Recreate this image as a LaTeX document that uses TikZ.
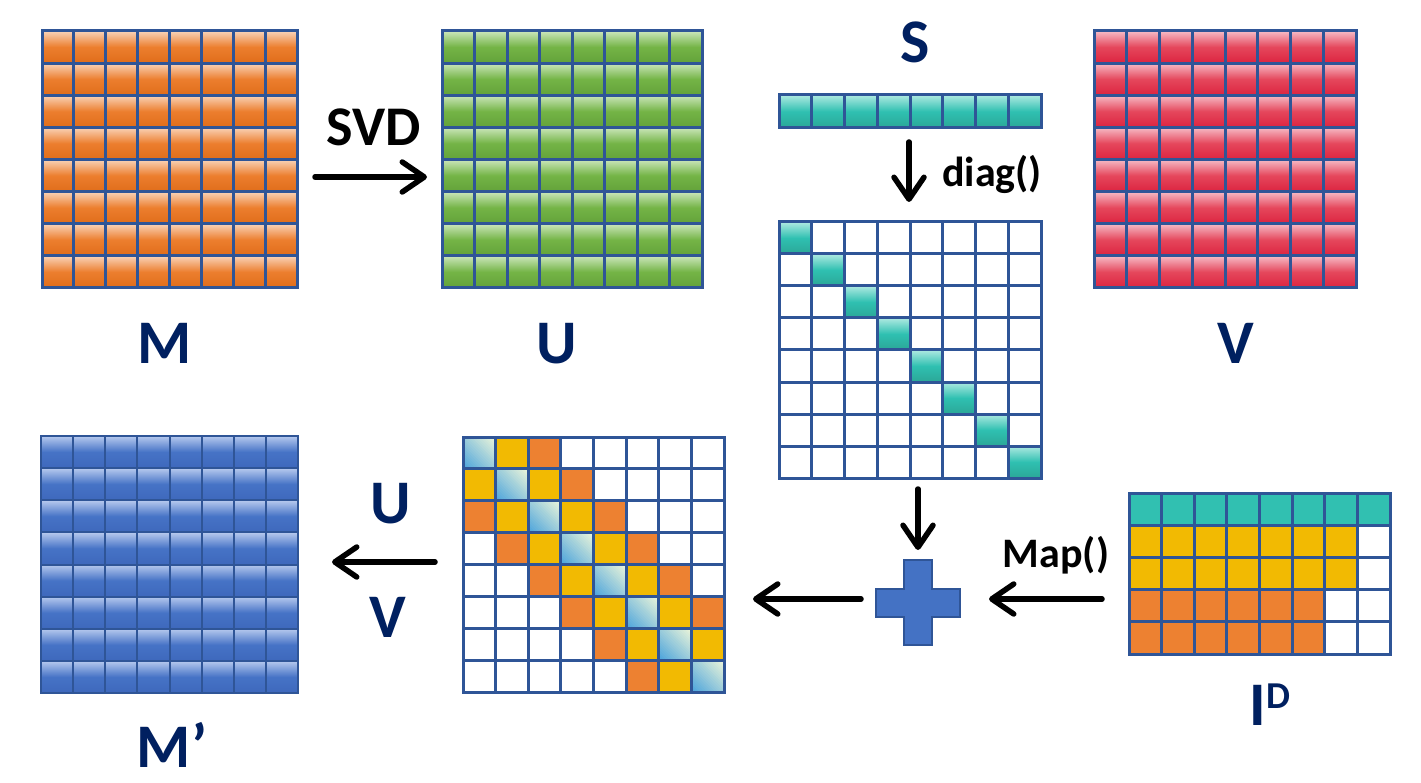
\documentclass[tikz,border=0pt]{standalone}
\usepackage{fontspec}
\setmainfont{Carlito}
\usetikzlibrary{arrows.meta}
\definecolor{gridc}{HTML}{2F5597}
\definecolor{navy}{HTML}{002060}
\definecolor{orTop}{HTML}{F9D3B8}
\definecolor{orMid}{HTML}{EC7E2E}
\definecolor{orBot}{HTML}{E06D1A}
\definecolor{grTop}{HTML}{CBE6BB}
\definecolor{grMid}{HTML}{74B446}
\definecolor{grBot}{HTML}{63A23A}
\definecolor{rdTop}{HTML}{F6BBC6}
\definecolor{rdMid}{HTML}{E5475C}
\definecolor{rdBot}{HTML}{DC2440}
\definecolor{tlTop}{HTML}{AEE9E1}
\definecolor{tlMid}{HTML}{2FC0B1}
\definecolor{tlBot}{HTML}{2BA797}
\definecolor{blTop}{HTML}{B6C9EE}
\definecolor{blMid}{HTML}{4673C6}
\definecolor{blBot}{HTML}{3E68BC}
\definecolor{yel}{HTML}{F2BA02}
\definecolor{ora}{HTML}{ED8131}
\definecolor{tea}{HTML}{31C0B1}
\definecolor{dBlue}{HTML}{48A2DC}
\definecolor{dLight}{HTML}{EFF7D9}
\definecolor{plusc}{HTML}{4472C4}
\tikzset{
  lab/.style={text=navy, inner sep=0pt, font=\bfseries\fontsize{62}{62}\selectfont},
  oplab/.style={text=black, inner sep=0pt, font=\bfseries\fontsize{42}{42}\selectfont},
  arr/.style={draw=black, line width=5.5pt, line cap=round,
    -{Straight Barb[length=22pt,width=30pt,round]}},
  gl/.style={draw=gridc, line width=3pt},
  glthin/.style={draw=gridc, line width=2pt},
  orangeg/.style={top color=orTop, bottom color=orBot, middle color=orMid},
  greeng/.style={top color=grTop, bottom color=grBot, middle color=grMid},
  redg/.style={top color=rdTop, bottom color=rdBot, middle color=rdMid},
  tealg/.style={top color=tlTop, bottom color=tlBot, middle color=tlMid},
  blueg/.style={top color=blTop, bottom color=blBot, middle color=blMid},
  plusst/.style={fill=plusc, draw=gridc, line width=1.5pt}
}
\newcommand\matgrid[7]{%
  \pgfmathsetmacro\mycw{(#3-#1)/#5}%
  \pgfmathsetmacro\mych{(#4-#2)/#6}%
  \pgfmathtruncatemacro\myncm{#5-1}%
  \pgfmathtruncatemacro\mynrm{#6-1}%
  \foreach \c in {1,...,\myncm}{\draw[#7] ({#1+\c*\mycw},#2) -- ({#1+\c*\mycw},#4);}%
  \ifnum\mynrm>0 \foreach \r in {1,...,\mynrm}{\draw[#7] (#1,{#2+\r*\mych}) -- (#3,{#2+\r*\mych});}\fi
  \draw[#7] (#1,#2) rectangle (#3,#4);
}
\newcommand\gradmat[8]{%
  \pgfmathsetmacro\mycw{(#3-#1)/#5}%
  \pgfmathsetmacro\mych{(#4-#2)/#6}%
  \foreach \c in {1,...,#5}{\foreach \r in {1,...,#6}{%
    \path[#7] ({#1+(\c-1)*\mycw},{#2+(\r-1)*\mych}) rectangle ({#1+\c*\mycw},{#2+\r*\mych});}}%
  \matgrid{#1}{#2}{#3}{#4}{#5}{#6}{#8}
}
% diagonal gradient cell: #1 x0, #2 y0 (top), #3 x1, #4 y1 (bottom)
\newcommand\diagcell[4]{%
  \begin{scope}
    \clip (#1,#2) rectangle (#3,#4);
    \pgfmathsetmacro\mytot{(#3-#1)+(#4-#2)}%
    \foreach \k in {0,...,23}{%
      \pgfmathsetmacro\sa{\k*\mytot/24}%
      \pgfmathsetmacro\sb{(\k+1.6)*\mytot/24}%
      \pgfmathtruncatemacro\pp{round((\k+0.5)*100/24)}%
      \fill[dLight!\pp!dBlue] ({#1+\sa-60},{#4-60}) -- ({#1+\sb-60},{#4-60})
        -- ({#1+\sb+60},{#4+60}) -- ({#1+\sa+60},{#4+60}) -- cycle;
    }
  \end{scope}
}
\begin{document}
\begin{tikzpicture}[x=1pt,y=-1pt]
\useasboundingbox (0,0) rectangle (1421,783);
\fill[white] (0,0) rectangle (1421,783);

% full gradient matrices
\gradmat{42}{31}{297}{288}{8}{8}{orangeg}{gl}
\gradmat{442}{31}{702}{288}{8}{8}{greeng}{gl}
\gradmat{1094}{31}{1356}{288}{8}{8}{redg}{gl}
\gradmat{779}{95}{1041}{128}{8}{1}{tealg}{gl}
\gradmat{41}{436}{298}{693}{8}{8}{blueg}{glthin}

% diagonal matrix
\pgfmathsetmacro\dcw{(1041-779)/8}
\pgfmathsetmacro\dch{(478-222)/8}
\foreach \k in {0,...,7}{
  \path[tealg] ({779+\k*\dcw},{222+\k*\dch}) rectangle ({779+(\k+1)*\dcw},{222+(\k+1)*\dch});
}
\matgrid{779}{222}{1041}{478}{8}{8}{gl}

% combined matrix
\pgfmathsetmacro\ccw{(724-463)/8}
\pgfmathsetmacro\cch{(692-437)/8}
\foreach \r in {0,...,7}{\foreach \c in {0,...,7}{
  \pgfmathtruncatemacro\dd{abs(\r-\c)}
  \pgfmathsetmacro\cxa{463+\c*\ccw}
  \pgfmathsetmacro\cxb{463+(\c+1)*\ccw}
  \pgfmathsetmacro\cya{437+\r*\cch}
  \pgfmathsetmacro\cyb{437+(\r+1)*\cch}
  \ifnum\dd=0 \diagcell{\cxa}{\cya}{\cxb}{\cyb}\fi
  \ifnum\dd=1 \fill[yel] (\cxa,\cya) rectangle (\cxb,\cyb);\fi
  \ifnum\dd=2 \fill[ora] (\cxa,\cya) rectangle (\cxb,\cyb);\fi
}}
\matgrid{463}{437}{724}{692}{8}{8}{gl}

% I^D matrix
\pgfmathsetmacro\icw{(1390-1129)/8}
\pgfmathsetmacro\ich{(654-493)/5}
\fill[tea] (1129,493) rectangle (1390,{493+\ich});
\fill[yel] (1129,{493+\ich}) rectangle ({1129+7*\icw},{493+3*\ich});
\fill[ora] (1129,{493+3*\ich}) rectangle ({1129+6*\icw},654);
\matgrid{1129}{493}{1390}{654}{8}{5}{gl}

% plus
\draw[plusst] (904,560) -- (932,560) -- (932,589) -- (960,589) -- (960,617) -- (932,617)
  -- (932,645) -- (904,645) -- (904,617) -- (876,617) -- (876,589) -- (904,589) -- cycle;
\coordinate (plus) at (918,603);

% labels
\node[lab, anchor=base] (Mlab) at (165,363) {M};
\node[lab, anchor=base] (Ulab) at (557,363) {U};
\node[lab, anchor=base] (Vlab) at (1236,363) {V};
\node[lab, anchor=base] (Slab) at (915,63) {S};
\node[lab, anchor=base] (Mplab) at (172,767) {M’};
\node[lab, anchor=base] (U2lab) at (391,523) {U};
\node[lab, anchor=base] (V2lab) at (388,637) {V};
\node[lab, anchor=base west] (IDlab) at (1249,725) {I\hspace{1pt}\raisebox{17pt}{\fontsize{38}{38}\selectfont D}};
\node[oplab, anchor=base, font=\bfseries\fontsize{56}{56}\selectfont] (svd) at (374,146) {SVD};
\node[oplab, anchor=base west] (diag) at (942,187) {diag()};
\node[oplab, anchor=base] (map) at (1056,567) {Map()};

% arrows
\coordinate (a1s) at (315,177); \coordinate (a1e) at (427,177);
\coordinate (a2s) at (909,142); \coordinate (a2e) at (909,202);
\coordinate (a3s) at (918,489); \coordinate (a3e) at (918,550);
\coordinate (a4s) at (1102,599); \coordinate (a4e) at (989,599);
\coordinate (a5s) at (861,599); \coordinate (a5e) at (753,599);
\coordinate (a6s) at (435,562); \coordinate (a6e) at (332,562);
\draw[arr] (a1s) -- (a1e);
\draw[arr] (a2s) -- (a2e);
\draw[arr] (a3s) -- (a3e);
\draw[arr] (a4s) -- (a4e);
\draw[arr] (a5s) -- (a5e);
\draw[arr] (a6s) -- (a6e);
\end{tikzpicture}
\end{document}
